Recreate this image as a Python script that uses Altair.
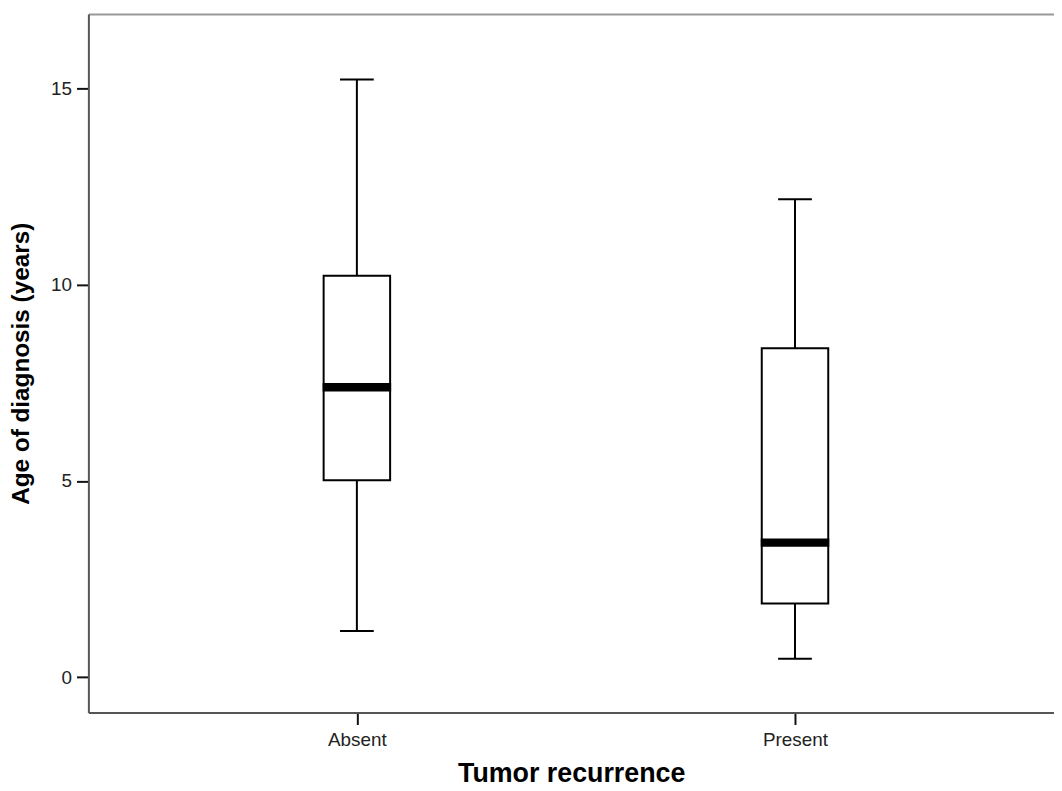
import altair as alt
import pandas as pd

# Values
groups = ["Absent", "Present"]
whisker_low = [1.18, 0.47]
q1 = [5.02, 1.88]
median = [7.39, 3.43]
q3 = [10.23, 8.38]
whisker_high = [15.23, 12.18]
y_ticks = [0, 5, 10, 15]

df = pd.DataFrame({
    "group": groups,
    "low": whisker_low,
    "q1": q1,
    "median": median,
    "q3": q3,
    "high": whisker_high,
})

FONT = "Liberation Sans"

x_scale = alt.Scale(type="point", domain=groups, padding=0.602, align=0.509)

x_bottom = alt.X(
    "group:N",
    scale=x_scale,
    axis=alt.Axis(
        orient="bottom",
        title="Tumor recurrence",
        labelAngle=0,
        labelFont=FONT,
        labelFontSize=19,
        labelColor="#222",
        labelPadding=6,
        tickSize=12,
        tickWidth=2,
        tickColor="#111",
        domainColor="#555",
        domainWidth=2,
        titleFont=FONT,
        titleFontSize=27,
        titleFontWeight="bold",
        titleColor="#000",
        titlePadding=11,
        grid=False,
    ),
)

# top frame line drawn as a bare axis domain
x_top = alt.X(
    "group:N",
    scale=x_scale,
    axis=alt.Axis(
        orient="top",
        title=None,
        labels=False,
        ticks=False,
        domainColor="#999",
        domainWidth=2,
        grid=False,
    ),
)

x_plain = alt.X("group:N", scale=x_scale, axis=None)

y_scale = alt.Scale(domain=[-0.9, 16.9], nice=False, zero=False)
y_axis = alt.Axis(
    title="Age of diagnosis (years)",
    values=y_ticks,
    labelFont=FONT,
    labelFontSize=19,
    labelColor="#222",
    labelPadding=5,
    tickSize=12,
    tickWidth=2,
    tickColor="#111",
    domainColor="#555",
    domainWidth=2,
    titleFont=FONT,
    titleFontSize=24.5,
    titleFontWeight="bold",
    titleColor="#000",
    titlePadding=17,
    grid=False,
)

base = alt.Chart(df)

whisker = base.mark_rule(color="black", strokeWidth=2, opacity=1).encode(
    x=x_bottom,
    y=alt.Y("low:Q", scale=y_scale, axis=y_axis),
    y2="high:Q",
)

box = base.mark_bar(width=67, fill="white", stroke="black", strokeWidth=2, opacity=1).encode(
    x=x_plain,
    y=alt.Y("q1:Q", scale=y_scale),
    y2="q3:Q",
)

cap_low = base.mark_tick(size=34, thickness=2, color="black", opacity=1, orient="horizontal").encode(
    x=x_plain,
    y=alt.Y("low:Q", scale=y_scale),
)

cap_high = base.mark_tick(size=34, thickness=2, color="black", opacity=1, orient="horizontal").encode(
    x=x_plain,
    y=alt.Y("high:Q", scale=y_scale),
)

med = base.mark_tick(size=69, thickness=8.5, color="black", opacity=1, orient="horizontal").encode(
    x=x_top,
    y=alt.Y("median:Q", scale=y_scale),
)

chart = (
    alt.layer(whisker, box, cap_low, cap_high, med)
    .properties(
        width=973,
        height=704,
        autosize=alt.AutoSizeParams(type="none"),
        padding={"left": 81, "top": 3, "right": 0, "bottom": 76},
    )
    .configure_view(strokeWidth=0)
    .configure(background="white")
)

chart.save("out.html", embed_options={"renderer": "svg", "actions": False})
